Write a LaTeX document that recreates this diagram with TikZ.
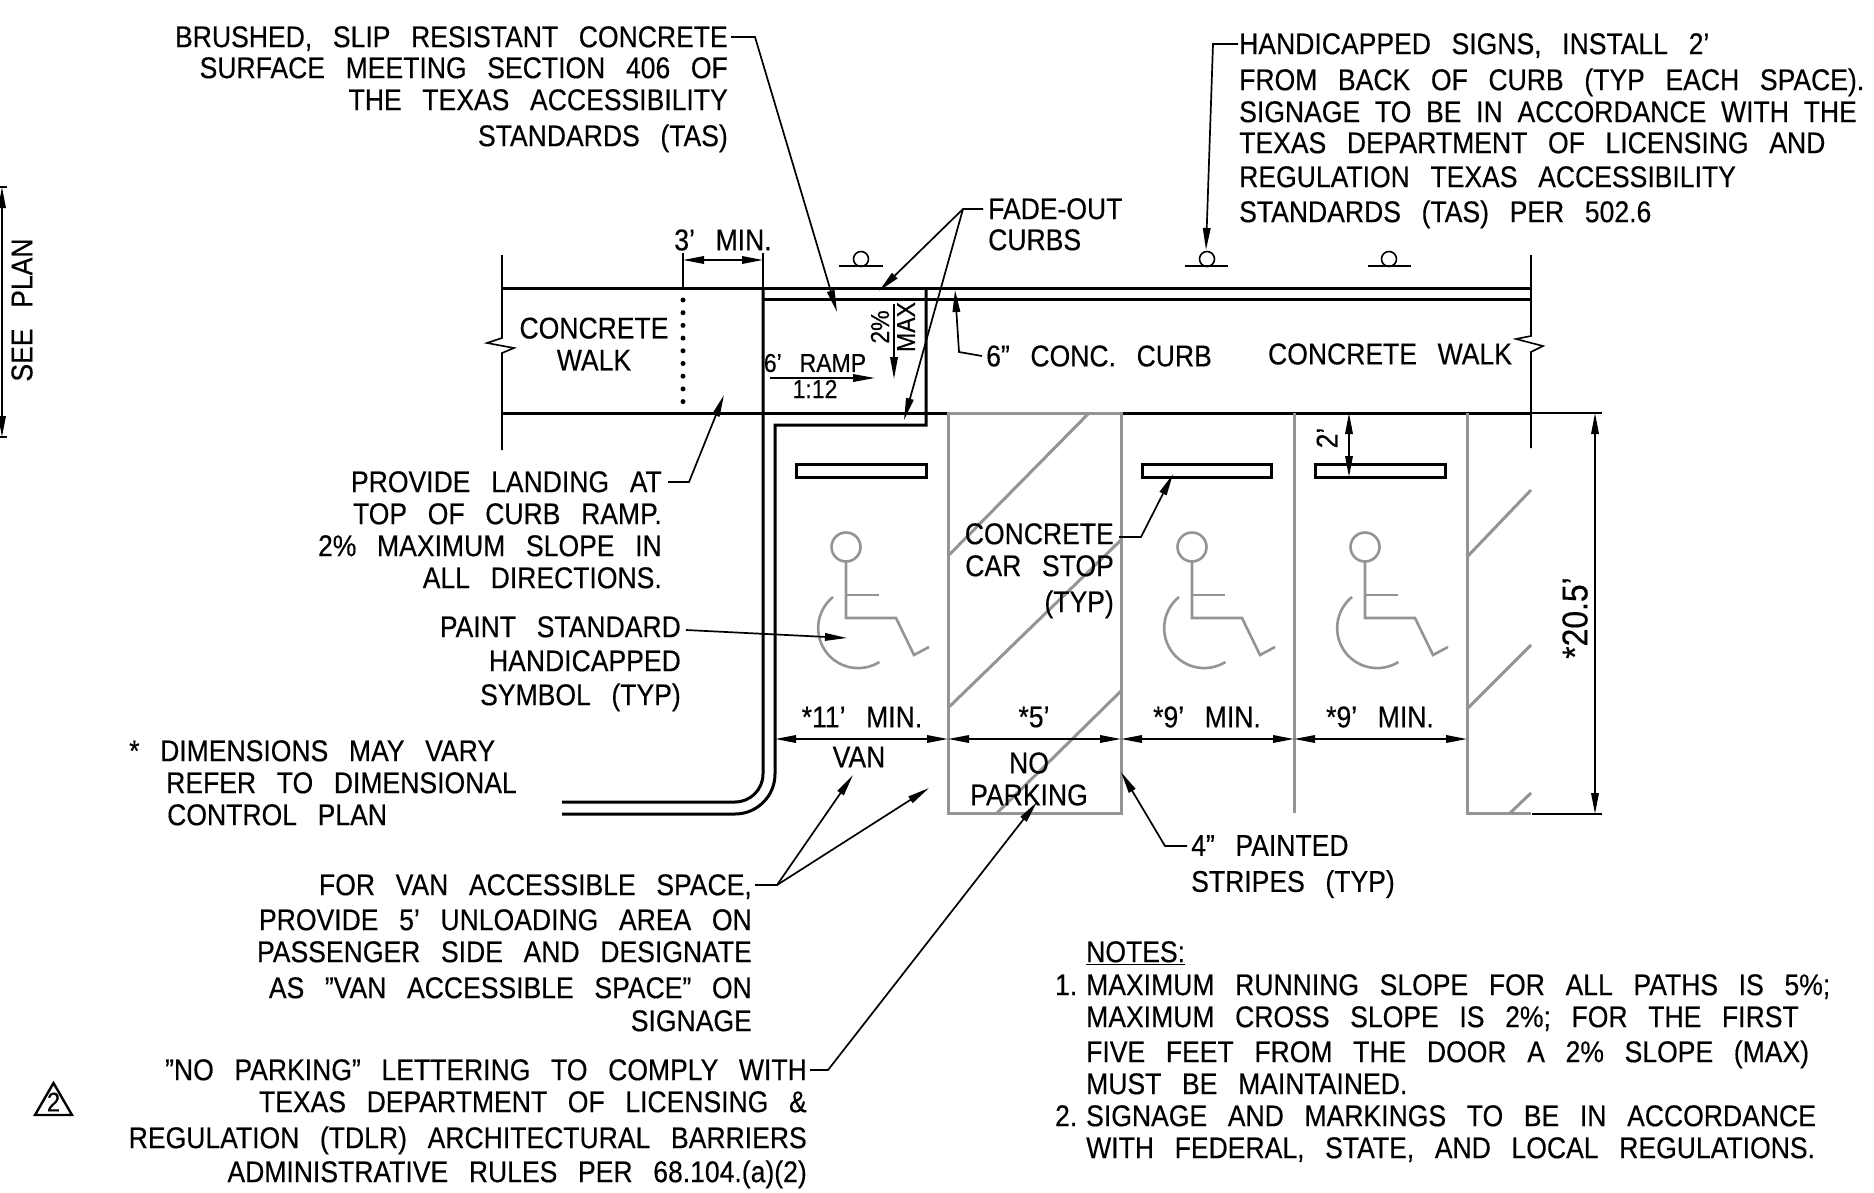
\documentclass[tikz,border=0pt]{standalone}
\usepackage{fontspec}
\setmainfont{Liberation Sans}[FakeStretch=0.885,WordSpace=2.8,FakeBold=0.35]
\newfontfamily\tightfont{Liberation Sans}[FakeStretch=0.885,WordSpace=2,FakeBold=0.35]
\usetikzlibrary{arrows.meta}

\newcommand{\wheelchair}[1]{
	\begin{scope}[shift={(#1,0)}, symbol]
		\draw (846,547) circle (14.5);
		\draw (846,562) -- (846,618) -- (896,618) -- (914,655) -- (929,647);
		\draw (846,595) -- (879,595);
		\draw (833,597) arc[start angle=231, end angle=58, radius=40];
	\end{scope}
}

\begin{document}
\begin{tikzpicture}[x=1pt, y=-1pt,
		heavy/.style={line width=3pt},
		thinline/.style={line width=1.6pt},
		stripe/.style={line width=3pt, color=black!42},
		symbol/.style={line width=2.6pt, color=black!42},
		leader/.style={line width=1.7pt, -{Triangle[length=22pt, width=7.5pt]}},
		dimline/.style={line width=1.7pt, {Triangle[length=21pt, width=7.5pt]}-{Triangle[length=21pt, width=7.5pt]}},
		lbl/.style={inner sep=0pt, font=\fontsize{30}{31}\selectfont},
		small/.style={inner sep=0pt, font=\fontsize{26}{27}\selectfont}]
		\useasboundingbox (0,0) rectangle (1874,1192);

		% walk and curb
		\draw[heavy] (502,288) -- (1532,288);
		\draw[heavy] (763,299) -- (1532,299);
		\draw[heavy] (502,413) -- (1532,413);
		\draw[heavy] (763,288) -- (763,774) arc[start angle=0, end angle=90, radius=28] -- (562,802);
		\draw[heavy] (926,288) -- (926,425) -- (775,425) -- (775,774) arc[start angle=0, end angle=90, radius=40] -- (562,814);
		\draw[thinline] (502,255) -- (502,338) -- (487,343) -- (514,348) -- (502,353) -- (502,450);
		\draw[thinline] (1531,255) -- (1531,336) -- (1516,339) -- (1543,346) -- (1531,352) -- (1531,448);
		\draw[line width=5pt, line cap=round, dash pattern=on 0pt off 12.7pt] (683,300) -- (683,403);

		% parking stripes
		\draw[stripe] (948,413) rectangle (1121,813);
		\draw[stripe] (1294,413) -- (1294,813);
		\draw[stripe] (1467,413) -- (1467,813) -- (1531,813);
		\draw[stripe] (1089,413) -- (948,556);
		\draw[stripe] (1121,540) -- (948,708);
		\draw[stripe] (1121,691) -- (997,813);
		\draw[stripe] (1531,490) -- (1467,557);
		\draw[stripe] (1531,645) -- (1467,709);
		\draw[stripe] (1531,793) -- (1510,813);

		% car stops
		\draw[heavy] (796,464) rectangle (926,477);
		\draw[heavy] (1142,464) rectangle (1271,477);
		\draw[heavy] (1315,464) rectangle (1445,477);

		% symbols
		\wheelchair{0}
		\wheelchair{346}
		\wheelchair{519}

		% signs
		\draw[thinline] (839,266) -- (883,266);
		\draw[thinline] (861,259) circle (7.5);
		\draw[thinline] (1185,266) -- (1228,266);
		\draw[thinline] (1207,259) circle (7.5);
		\draw[thinline] (1368,266) -- (1411,266);
		\draw[thinline] (1389,259) circle (7.5);

		% dimensions
		\draw[thinline] (683,253) -- (683,288);
		\draw[thinline] (763,253) -- (763,288);
		\draw[dimline] (683,260) -- (763,260);
		\draw[dimline] (775,739) -- (948,739);
		\draw[dimline] (948,739) -- (1121,739);
		\draw[dimline] (1121,739) -- (1294,739);
		\draw[dimline] (1294,739) -- (1467,739);
		\draw[dimline] (1349,413) -- (1349,477);
		\draw[thinline] (1532,413) -- (1602,413);
		\draw[thinline] (1532,814) -- (1602,814);
		\draw[dimline] (1595,413) -- (1595,814);
		\draw[dimline] (2,187) -- (2,437);
		\draw[thinline] (0,187) -- (7,187);
		\draw[thinline] (0,437) -- (7,437);
		\draw[line width=1.7pt, -{Triangle[length=22pt, width=7.5pt]}] (770,378) -- (875,378);
		\draw[line width=1.7pt, -{Triangle[length=22pt, width=7.5pt]}] (894,304) -- (894,379);

		% labels on the plan
		\node[lbl] (threemin) at (723,240) {3' MIN.};
		\node[lbl, align=center] (walkleft) at (594,344) {CONCRETE\\[1pt]WALK};
		\node[lbl] (walkright) at (1390,354) {CONCRETE WALK};
		\node[small] (ramp) at (815,363) {6' RAMP};
		\node[small] (rampslope) at (815,389) {1:12};
		\node[small, rotate=90] (crossslope) at (880,327) {2\%};
		\node[small, rotate=90] (crossmax) at (906,327) {MAX};
		\node[lbl, rotate=90] (twofeet) at (1327,438) {2'};
		\node[inner sep=0pt, font=\fontsize{36}{37}\selectfont, rotate=90] (depth) at (1575,618) {*20.5'};
		\node[lbl] (vanwidth) at (862,717) {*11' MIN.};
		\node[lbl] (aislewidth) at (1034,717) {*5'};
		\node[lbl] (widthone) at (1207,717) {*9' MIN.};
		\node[lbl] (widthtwo) at (1380,717) {*9' MIN.};
		\node[lbl] (van) at (859,757) {VAN};
		\node[lbl, align=center] (noparking) at (1029,779) {NO\\[1pt]PARKING};
		\node[lbl, rotate=90] (seeplan) at (22,310) {SEE PLAN};

		% callouts
		\node[lbl, anchor=north east, align=right] (brushed) at (728,26) {BRUSHED, SLIP RESISTANT CONCRETE\\SURFACE MEETING SECTION 406 OF\\[1pt]THE TEXAS ACCESSIBILITY\\[5pt]STANDARDS (TAS)};
		\node[lbl, anchor=north west, align=left] (signs) at (1239,33) {HANDICAPPED SIGNS, INSTALL 2'\\[5pt]FROM BACK OF CURB (TYP EACH SPACE).\\[1pt]{\tightfont SIGNAGE TO BE IN ACCORDANCE WITH THE}\\TEXAS DEPARTMENT OF LICENSING AND\\[3pt]REGULATION TEXAS ACCESSIBILITY\\[4pt]STANDARDS (TAS) PER 502.6};
		\node[lbl, anchor=north west, align=left] (fadeout) at (988,198) {FADE-OUT\\CURBS};
		\node[lbl, anchor=west] (curb) at (986,356) {6" CONC. CURB};
		\node[lbl, anchor=north east, align=right] (landing) at (662,471) {PROVIDE LANDING AT\\[1pt]TOP OF CURB RAMP.\\[1pt]2\% MAXIMUM SLOPE IN\\[1pt]ALL DIRECTIONS.};
		\node[lbl, anchor=north east, align=right] (paint) at (681,616) {PAINT STANDARD\\[3pt]HANDICAPPED\\[3pt]SYMBOL (TYP)};
		\node[lbl, anchor=north east, align=right] (carstop) at (1114,523) {CONCRETE\\[1pt]CAR STOP\\[5pt](TYP)};
		\node[lbl, anchor=north west, align=left] (vary) at (129,740) {* DIMENSIONS MAY VARY\\[1pt]\hspace*{37pt}REFER TO DIMENSIONAL\\[1pt]\hspace*{38pt}CONTROL PLAN};
		\node[lbl, anchor=north east, align=right] (vanspace) at (752,874) {FOR VAN ACCESSIBLE SPACE,\\[4pt]PROVIDE 5' UNLOADING AREA ON\\[1pt]PASSENGER SIDE AND DESIGNATE\\[5pt]AS "VAN ACCESSIBLE SPACE" ON\\[2pt]SIGNAGE};
		\node[lbl, anchor=north east, align=right] (lettering) at (807,1059) {"NO PARKING" LETTERING TO COMPLY WITH\\[1pt]TEXAS DEPARTMENT OF LICENSING \&\\[5pt]REGULATION (TDLR) ARCHITECTURAL BARRIERS\\[3pt]ADMINISTRATIVE RULES PER 68.104.(a)(2)};
		\node[lbl, anchor=north west, align=left] (stripes) at (1191,835) {4" PAINTED\\[5pt]STRIPES (TYP)};
		\node[lbl, anchor=north west, align=left] (notes) at (1086,941) {\underline{NOTES:}\\[2pt]\llap{1.\hspace{9pt}}MAXIMUM RUNNING SLOPE FOR ALL PATHS IS 5\%;\\[1pt]MAXIMUM CROSS SLOPE IS 2\%; FOR THE FIRST\\[4pt]FIVE FEET FROM THE DOOR A 2\% SLOPE (MAX)\\[1pt]MUST BE MAINTAINED.\\[1pt]\llap{2.\hspace{9pt}}SIGNAGE AND MARKINGS TO BE IN ACCORDANCE\\[1pt]WITH FEDERAL, STATE, AND LOCAL REGULATIONS.};
		\node[inner sep=0pt, font=\fontsize{27}{27}\selectfont] (revision) at (53.5,1102) {2};
		\draw[line width=2.4pt] (35,1115) -- (53.5,1083) -- (72,1115) -- cycle;

		% leaders
		\coordinate (brushedtip) at (837,312);
		\coordinate (fadetipa) at (879,291);
		\coordinate (fadetipb) at (904,420);
		\coordinate (curbtip) at (955,290);
		\coordinate (landingtip) at (724,395);
		\coordinate (signtip) at (1206,250);
		\coordinate (painttip) at (847,638);
		\coordinate (stoptip) at (1173,474);
		\coordinate (vantipa) at (853,775);
		\coordinate (vantipb) at (929,788);
		\coordinate (lettertip) at (1037,802);
		\coordinate (stripetip) at (1121,772);

		\draw[leader] ([xshift=3pt, yshift=-11pt]brushed.north east) -- (755,37) -- (brushedtip);
		\draw[leader] ([xshift=-5pt, yshift=-11pt]fadeout.north west) -- (963,209) -- (fadetipa);
		\draw[leader] (963,209) -- (fadetipb);
		\draw[leader] ([xshift=-4pt]curb.west) -- (959,352) -- (curbtip);
		\draw[leader] ([xshift=6pt, yshift=-11pt]landing.north east) -- (689,482) -- (landingtip);
		\draw[leader] ([xshift=-1pt, yshift=-11pt]signs.north west) -- (1213,44) -- (signtip);
		\draw[leader] ([xshift=5pt, yshift=-14pt]paint.north east) -- (painttip);
		\draw[leader] ([xshift=5pt, yshift=-14pt]carstop.north east) -- (1141,537) -- (stoptip);
		\draw[leader] ([xshift=3pt, yshift=-11pt]vanspace.north east) -- (777,885) -- (vantipa);
		\draw[leader] (777,885) -- (vantipb);
		\draw[leader] ([xshift=3pt, yshift=-11pt]lettering.north east) -- (828,1070) -- (lettertip);
		\draw[leader] ([xshift=-4pt, yshift=-11pt]stripes.north west) -- (1165,846) -- (stripetip);
	\end{tikzpicture}
\end{document}
